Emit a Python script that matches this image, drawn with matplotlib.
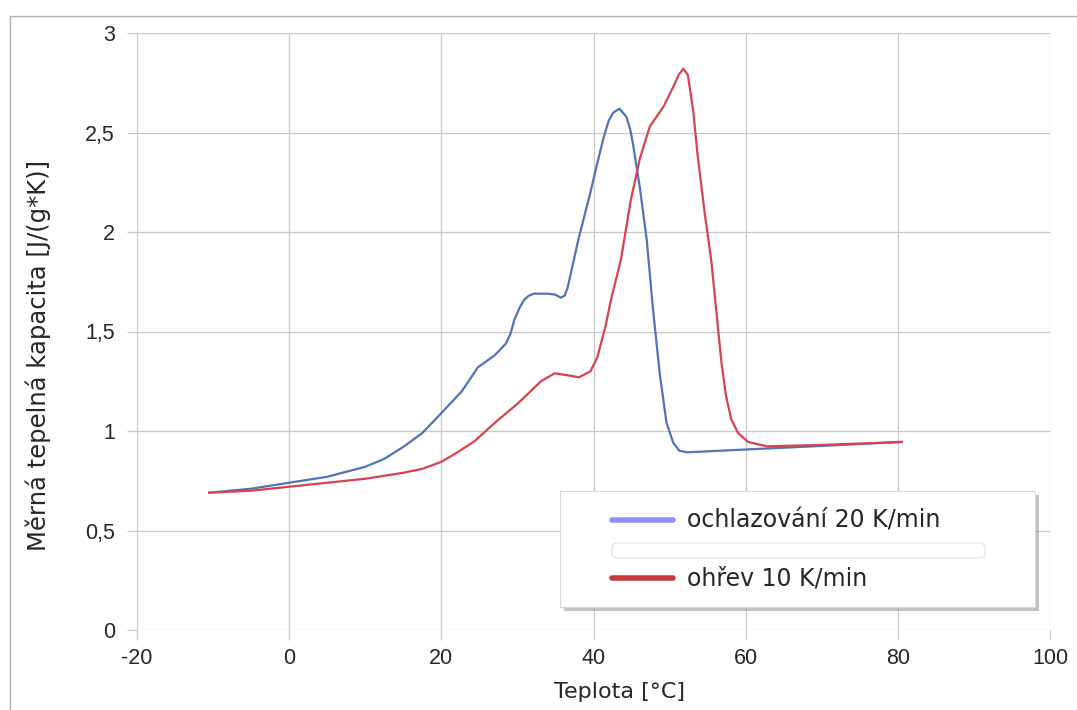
import matplotlib
matplotlib.use("Agg")
import matplotlib.pyplot as plt
from matplotlib.patches import Rectangle, FancyBboxPatch
from matplotlib.lines import Line2D

# ---------------- data ----------------
cool_x = [-10.5, -5, 0, 5, 10, 12.5, 15, 17.5, 20, 22.7, 24.8, 27.0, 28.5, 29.1, 29.6, 30.3,
          30.9, 31.5, 32.2, 34.0, 35.0, 35.7, 36.2, 36.6, 37.3, 38.0, 38.8, 39.6,
          40.4, 41.3, 42.0, 42.6, 43.4, 44.3, 44.8, 45.2, 46.1, 47.0, 47.8, 48.7,
          49.6, 50.5, 51.3, 52.4, 60, 70, 80.5]
cool_y = [0.69, 0.71, 0.74, 0.77, 0.82, 0.86, 0.92, 0.99, 1.09, 1.20, 1.32, 1.38, 1.44, 1.49, 1.56, 1.62,
          1.66, 1.68, 1.69, 1.69, 1.685, 1.67, 1.68, 1.72, 1.84, 1.96, 2.08, 2.20,
          2.33, 2.47, 2.56, 2.60, 2.62, 2.58, 2.52, 2.44, 2.22, 1.96, 1.62, 1.29,
          1.04, 0.94, 0.90, 0.893, 0.907, 0.925, 0.945]

heat_x = [-10.5, -5, 0, 5, 10, 12.5, 15, 17.5, 20, 22, 24.4, 27, 30.1, 33.1, 34.9, 36.6, 38.1, 39.6,
          40.5, 41.6, 42.3, 43.6, 44.9, 46.1, 47.4, 48.3, 49.2, 50.5, 51.2, 51.8,
          52.4, 53.1, 53.7, 54.6, 55.5, 56.2, 56.8, 57.4, 58.1, 59.0, 60.3, 62.8,
          70, 80.5]
heat_y = [0.69, 0.70, 0.72, 0.74, 0.76, 0.775, 0.79, 0.81, 0.845, 0.89, 0.95, 1.04, 1.14, 1.25, 1.29, 1.28, 1.27, 1.30,
          1.37, 1.53, 1.66, 1.86, 2.16, 2.37, 2.53, 2.58, 2.63, 2.73, 2.79, 2.82,
          2.79, 2.61, 2.38, 2.10, 1.85, 1.58, 1.35, 1.18, 1.06, 0.99, 0.945, 0.923,
          0.93, 0.945]

x_ticks = [-20, 0, 20, 40, 60, 80, 100]
y_ticks = [0, 0.5, 1, 1.5, 2, 2.5, 3]
y_tick_labels = ["0", "0,5", "1", "1,5", "2", "2,5", "3"]

series_labels = ["ochlazování 20 K/min", "ohřev 10 K/min"]

# ---------------- figure ----------------
plt.rcParams['font.family'] = ['Liberation Sans', 'DejaVu Sans']
plt.rcParams['axes.unicode_minus'] = False
W, H = 1077, 710
fig = plt.figure(figsize=(W / 100, H / 100), dpi=100)
ax = fig.add_axes([137 / W, 1 - 630 / H, (1050 - 137) / W, (630 - 33) / H])

ax.plot(cool_x, cool_y, color='#4f74b8', lw=1.6, zorder=3)
ax.plot(heat_x, heat_y, color='#d4434f', lw=1.6, zorder=3)

ax.set_xlim(-20, 100)
ax.set_ylim(0, 3)
ax.set_xticks(x_ticks)
ax.set_yticks(y_ticks)
ax.set_yticklabels(y_tick_labels)
ax.grid(True, color='#c8c8c8', lw=0.9)
for s in ax.spines.values():
    s.set_visible(False)
ax.tick_params(axis='both', length=7, color='#c8c8c8', width=0.9,
               labelsize=15.5, labelcolor='#262626')
ax.tick_params(axis='y', pad=9)
ax.tick_params(axis='x', pad=6)

txt_font = ['DejaVu Sans']
fig.text(620 / W, 1 - 692 / H, "Teplota [°C]", fontsize=16, color='#262626',
         ha='center', va='center', family=txt_font)
fig.text(38 / W, 1 - 355 / H, "Měrná tepelná kapacita [J/(g*K)]", fontsize=17.5,
         color='#262626', ha='center', va='center', rotation=90, family=txt_font)

# ---------------- outer frame ----------------
fig.add_artist(Line2D([10 / W, 10 / W], [0, 1 - 16 / H], transform=fig.transFigure,
                      color='#b0b0b0', lw=1))
fig.add_artist(Line2D([10 / W, 1], [1 - 16 / H, 1 - 16 / H], transform=fig.transFigure,
                      color='#b0b0b0', lw=1))

# ---------------- legend box ----------------
def px(x, y):
    return (x / W, 1 - y / H)

lx0, ly0, lx1, ly1 = 560, 491, 1035, 607
fig.add_artist(Rectangle(px(lx0 + 4, ly1 + 4), (lx1 - lx0) / W, (ly1 - ly0) / H,
                         transform=fig.transFigure, facecolor='#9a9a9a', edgecolor='none',
                         alpha=0.6, zorder=4))
fig.add_artist(Rectangle(px(lx0, ly1), (lx1 - lx0) / W, (ly1 - ly0) / H,
                         transform=fig.transFigure, facecolor='white', edgecolor='#d8d8d8',
                         lw=0.8, zorder=5))
fig.add_artist(FancyBboxPatch(px(612, 558), (985 - 612) / W, (558 - 543) / H,
                              boxstyle="round,pad=0,rounding_size=0.006",
                              transform=fig.transFigure, facecolor='white',
                              edgecolor='#e0e0e0', lw=0.8, zorder=6))
legend_colors = ['#8f8ff5', '#c53a3e']
for lab, col, yy in zip(series_labels, legend_colors, [520, 578]):
    fig.add_artist(Line2D([612 / W, 673 / W], [1 - yy / H] * 2, transform=fig.transFigure,
                          color=col, lw=4, solid_capstyle='round', zorder=6))
    fig.text(687 / W, 1 - yy / H, lab, fontsize=17, color='#262626',
             va='center', ha='left', zorder=6, family=txt_font)

fig.savefig("out.png", dpi=100)
